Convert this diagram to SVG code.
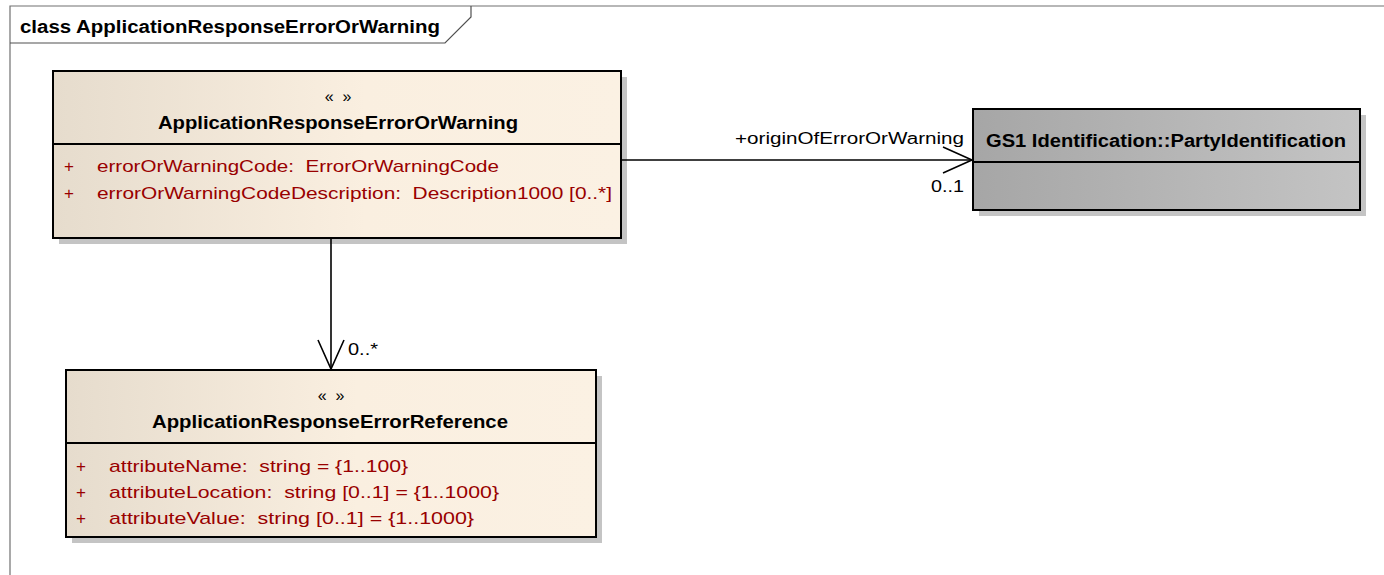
<svg xmlns="http://www.w3.org/2000/svg" width="1384" height="575" viewBox="0 0 1384 575">
<defs>
<linearGradient id="cream" x1="0" y1="0" x2="1" y2="0">
<stop offset="0" stop-color="#e6dccd"/>
<stop offset="0.55" stop-color="#faefe0"/>
<stop offset="1" stop-color="#fbf1e3"/>
</linearGradient>
<linearGradient id="gray" x1="0" y1="0" x2="1" y2="0">
<stop offset="0" stop-color="#a6a6a6"/>
<stop offset="1" stop-color="#c4c4c4"/>
</linearGradient>
<marker id="open" markerWidth="34" markerHeight="34" refX="30" refY="14" orient="auto" markerUnits="userSpaceOnUse">
<path d="M1,1 L30,14 L1,27" fill="none" stroke="#000" stroke-width="1.6"/>
</marker>
</defs>
<style>
text{font-family:"Liberation Sans",Arial,sans-serif;white-space:pre;}
.t{font-weight:bold;font-size:18px;fill:#000;}
.st{font-size:16px;fill:#000;}
.a{font-size:17px;fill:#990000;}
.l{font-size:16px;fill:#000;}
.box{stroke:#000;stroke-width:2;}
.sh{fill:#c4c4c4;}
.ln{stroke:#000;stroke-width:1.6;fill:none;}
</style>
<rect width="1384" height="575" fill="#fff"/>
<g id="frame">
<path d="M10,575 L10,6 L1384,6" fill="none" stroke="#707070" stroke-width="1.2"/>
<path d="M10,43 L445,43 L471,17 L471,6" fill="none" stroke="#505050" stroke-width="1.2"/>
<text class="t" x="20" y="33" font-size="17" textLength="420" lengthAdjust="spacingAndGlyphs">class ApplicationResponseErrorOrWarning</text>
</g>
<g id="ApplicationResponseErrorOrWarning">
<rect class="sh" x="59" y="77" width="568" height="167"/>
<rect class="box" x="53" y="71" width="568" height="167" fill="url(#cream)"/>
<line class="box" x1="53" y1="144" x2="621" y2="144"/>
<text class="st" x="338" y="102" text-anchor="middle">«  »</text>
<text class="t" x="158" y="129" textLength="360" lengthAdjust="spacingAndGlyphs">ApplicationResponseErrorOrWarning</text>
<text class="a" x="64" y="172">+</text>
<text class="a" x="97" y="172" textLength="402" lengthAdjust="spacingAndGlyphs">errorOrWarningCode:  ErrorOrWarningCode</text>
<text class="a" x="64" y="199">+</text>
<text class="a" x="97" y="199" textLength="515" lengthAdjust="spacingAndGlyphs">errorOrWarningCodeDescription:  Description1000 [0..*]</text>
</g>
<g id="PartyIdentification">
<rect class="sh" x="979" y="115" width="387" height="101"/>
<rect class="box" x="973" y="109" width="387" height="101" fill="url(#gray)"/>
<line class="box" x1="973" y1="162" x2="1360" y2="162"/>
<text class="t" x="986" y="147" textLength="360" lengthAdjust="spacingAndGlyphs">GS1 Identification::PartyIdentification</text>
</g>
<g id="ApplicationResponseErrorReference">
<rect class="sh" x="72" y="376" width="530" height="167"/>
<rect class="box" x="66" y="370" width="530" height="167" fill="url(#cream)"/>
<line class="box" x1="66" y1="443" x2="596" y2="443"/>
<text class="st" x="331" y="401" text-anchor="middle">«  »</text>
<text class="t" x="152" y="428" textLength="356" lengthAdjust="spacingAndGlyphs">ApplicationResponseErrorReference</text>
<text class="a" x="76" y="472">+</text>
<text class="a" x="109" y="472" textLength="299" lengthAdjust="spacingAndGlyphs">attributeName:  string = {1..100}</text>
<text class="a" x="76" y="498">+</text>
<text class="a" x="109" y="498" textLength="390" lengthAdjust="spacingAndGlyphs">attributeLocation:  string [0..1] = {1..1000}</text>
<text class="a" x="76" y="524">+</text>
<text class="a" x="109" y="524" textLength="365" lengthAdjust="spacingAndGlyphs">attributeValue:  string [0..1] = {1..1000}</text>
</g>
<g id="connectors">
<line class="ln" x1="621" y1="160" x2="972" y2="160" marker-end="url(#open)"/>
<text class="l" x="735" y="144" textLength="229" lengthAdjust="spacingAndGlyphs">+originOfErrorOrWarning</text>
<text class="l" x="931" y="192" textLength="33" lengthAdjust="spacingAndGlyphs">0..1</text>
<line class="ln" x1="331" y1="238" x2="331" y2="369" marker-end="url(#open)"/>
<text class="l" x="348" y="355" textLength="30" lengthAdjust="spacingAndGlyphs">0..*</text>
</g>
</svg>
